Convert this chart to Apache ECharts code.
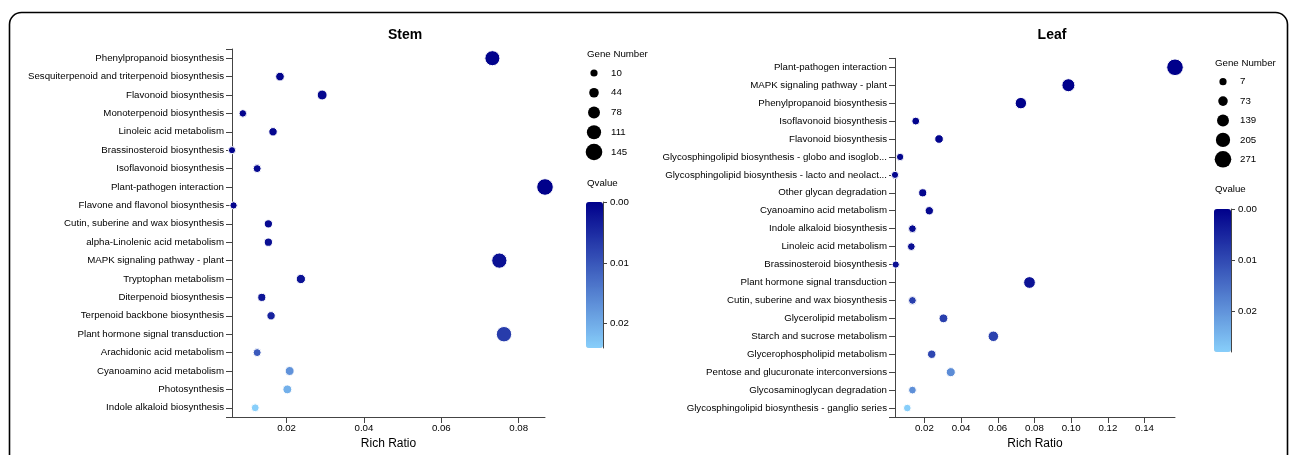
<!DOCTYPE html>
<html><head><meta charset="utf-8">
<script src="https://cdn.jsdelivr.net/npm/echarts@6/dist/echarts.min.js"></script>
<style>html,body{margin:0;padding:0;background:#fff}#c{width:1290px;height:455px}</style>
</head><body><div id="c"></div>
<script>
const stemCategories = [
  'Phenylpropanoid biosynthesis','Sesquiterpenoid and triterpenoid biosynthesis','Flavonoid biosynthesis',
  'Monoterpenoid biosynthesis','Linoleic acid metabolism','Brassinosteroid biosynthesis','Isoflavonoid biosynthesis',
  'Plant-pathogen interaction','Flavone and flavonol biosynthesis','Cutin, suberine and wax biosynthesis',
  'alpha-Linolenic acid metabolism','MAPK signaling pathway - plant','Tryptophan metabolism','Diterpenoid biosynthesis',
  'Terpenoid backbone biosynthesis','Plant hormone signal transduction','Arachidonic acid metabolism',
  'Cyanoamino acid metabolism','Photosynthesis','Indole alkaloid biosynthesis'];
const stemRichRatio = [0.0732,0.0183,0.0292,0.0087,0.0165,0.0059,0.0124,0.0868,0.0063,0.0153,
  0.0153,0.0750,0.0237,0.0136,0.0160,0.0762,0.0124,0.0208,0.0202,0.0119];
const stemQvalue = [0.0002,0.0005,0.0008,0.0005,0.0008,0.0003,0.0010,0.0001,0.0005,0.0012,
  0.0018,0.0020,0.0022,0.0025,0.0040,0.0070,0.0105,0.0170,0.0205,0.0240];
const stemGeneNumber = [123,31,49,15,28,10,21,145,11,26,26,126,40,23,27,128,21,35,34,20];
const stemSizeTicks = [10,44,78,111,145];

const leafCategories = [
  'Plant-pathogen interaction','MAPK signaling pathway - plant','Phenylpropanoid biosynthesis',
  'Isoflavonoid biosynthesis','Flavonoid biosynthesis','Glycosphingolipid biosynthesis - globo and isoglob...',
  'Glycosphingolipid biosynthesis - lacto and neolact...','Other glycan degradation','Cyanoamino acid metabolism',
  'Indole alkaloid biosynthesis','Linoleic acid metabolism','Brassinosteroid biosynthesis',
  'Plant hormone signal transduction','Cutin, suberine and wax biosynthesis','Glycerolipid metabolism',
  'Starch and sucrose metabolism','Glycerophospholipid metabolism','Pentose and glucuronate interconversions',
  'Glycosaminoglycan degradation','Glycosphingolipid biosynthesis - ganglio series'];
const leafRichRatio = [0.1566,0.0985,0.0726,0.0153,0.0280,0.0068,0.0040,0.0191,0.0227,0.0135,
  0.0129,0.0044,0.0773,0.0135,0.0304,0.0576,0.0240,0.0344,0.0135,0.0107];
const leafQvalue = [0.0000,0.0000,0.0001,0.0004,0.0005,0.0008,0.0010,0.0010,0.0012,0.0015,
  0.0020,0.0022,0.0025,0.0085,0.0085,0.0090,0.0095,0.0190,0.0195,0.0280];
const leafGeneNumber = [271,170,126,26,48,12,7,33,39,23,22,8,134,23,53,100,42,60,23,19];
const leafSizeTicks = [7,73,139,205,271];

const FONT = "'Liberation Sans', Arial, sans-serif";
const AX = '#444';
const FS = 9.7;
const D_MIN = 7.2, D_MAX = 16.6;
function sizeFn(genes){
  const lo = Math.min(...genes), hi = Math.max(...genes);
  return g => D_MIN + (g - lo) / (hi - lo) * (D_MAX - D_MIN);
}
const stemSize = sizeFn(stemGeneNumber), leafSize = sizeFn(leafGeneNumber);
const stemQMax = Math.max(...stemQvalue), leafQMax = Math.max(...leafQvalue);

const L = {
  stem: {grid:{left:232, top:49, width:313, height:374}, legend:{left:584, top:73, width:20, height:79},
         bar:{left:586, top:202, width:17, height:146}, title:[405,35], gene:[587,54], q:[587,183]},
  leaf: {grid:{left:895, top:58.3, width:280, height:368.4}, legend:{left:1213, top:81.7, width:20, height:77.6},
         bar:{left:1214, top:209, width:17, height:143}, title:[1052,35], gene:[1215,63], q:[1215,189]}
};

const grids = [], xAxes = [], yAxes = [], series = [], visualMaps = [], texts = [];
function build(key, cats, rr, qv, genes, ticks, sizeF, qMax, title, splitN){
  const g0 = grids.length; const lay = L[key];
  grids.push(lay.grid, lay.legend, lay.bar);
  xAxes.push({type:'value', gridIndex:g0, min:'dataMin', max:'dataMax', splitNumber:splitN, scale:true,
    name:'Rich Ratio', nameLocation:'middle', nameGap:21, nameTextStyle:{fontSize:12, color:'#000', fontFamily:FONT},
    axisLine:{show:true, onZero:false, lineStyle:{color:AX, width:1}}, axisTick:{show:true, length:6, lineStyle:{color:AX}},
    splitLine:{show:false},
    axisLabel:{fontSize:FS, color:'#000', fontFamily:FONT, margin:6, showMinLabel:false, showMaxLabel:false,
      formatter:v=>v.toFixed(2)}});
  xAxes.push({type:'value', gridIndex:g0+1, min:-1, max:1, show:false});
  xAxes.push({type:'value', gridIndex:g0+2, min:0, max:1, show:false});
  const yMain = yAxes.length;
  yAxes.push({type:'category', gridIndex:g0, data:cats, inverse:true, boundaryGap:true,
    axisLine:{show:true, onZero:false, lineStyle:{color:AX, width:1}},
    axisTick:{show:true, alignWithLabel:true, length:6, lineStyle:{color:AX}},
    axisLabel:{fontSize:FS, color:'#000', fontFamily:FONT, margin:8, interval:0}, splitLine:{show:false}});
  yAxes.push({type:'value', gridIndex:g0, min:0, max:1, interval:1, position:'left',
    axisLine:{show:false, onZero:false}, axisLabel:{show:false}, splitLine:{show:false},
    axisTick:{show:true, length:6, lineStyle:{color:AX}}});
  const yLeg = yAxes.length;
  yAxes.push({type:'category', gridIndex:g0+1, data:ticks.map(String), inverse:true, boundaryGap:false, position:'right',
    axisLine:{show:false, onZero:false}, axisTick:{show:false},
    axisLabel:{fontSize:FS, color:'#000', fontFamily:FONT, margin:7, interval:0}});
  yAxes.push({type:'value', gridIndex:g0+2, min:0, max:qMax, interval:0.01, inverse:true, position:'right',
    axisLine:{show:true, onZero:false, lineStyle:{color:AX, width:1}}, axisTick:{show:true, length:4, lineStyle:{color:AX}},
    splitLine:{show:false}, z:10,
    axisLabel:{fontSize:FS, color:'#000', fontFamily:FONT, margin:7, showMaxLabel:false, formatter:v=>v.toFixed(2)}});
  const sIdx = series.length;
  series.push({type:'scatter', xAxisIndex:g0, yAxisIndex:yMain, clip:false,
    data: cats.map((c,i)=>[rr[i], i, qv[i], genes[i]]),
    encode:{x:0, y:1},
    symbolSize: d => sizeF(d[3]),
    itemStyle:{borderColor:'#fff', borderWidth:1, opacity:1}});
  series.push({type:'scatter', xAxisIndex:g0+1, yAxisIndex:yLeg, clip:false,
    data: ticks.map((t,i)=>[0, i, t]), encode:{x:0, y:1},
    symbolSize: d => sizeF(d[2]), itemStyle:{color:'#000', opacity:1}});
  visualMaps.push({type:'continuous', seriesIndex:sIdx, dimension:2, min:0, max:qMax, inverse:true,
    left:lay.bar.left, top:lay.bar.top, itemWidth:lay.bar.width, itemHeight:lay.bar.height,
    padding:0, calculable:false, realtime:false, text:null, showLabel:false, z:1,
    inRange:{color:['#00008b','#87cefa']}, textStyle:{color:'transparent'}});
  texts.push({type:'text', x:lay.title[0], y:lay.title[1],
    style:{text:title, font:'bold 14px '+FONT, fill:'#000', textAlign:'center', textVerticalAlign:'middle'}});
  texts.push({type:'text', x:lay.gene[0], y:lay.gene[1],
    style:{text:'Gene Number', font:FS+'px '+FONT, fill:'#000', textAlign:'left', textVerticalAlign:'middle'}});
  texts.push({type:'text', x:lay.q[0], y:lay.q[1],
    style:{text:'Qvalue', font:FS+'px '+FONT, fill:'#000', textAlign:'left', textVerticalAlign:'middle'}});
}
build('stem', stemCategories, stemRichRatio, stemQvalue, stemGeneNumber, stemSizeTicks, stemSize, stemQMax, 'Stem', 5);
build('leaf', leafCategories, leafRichRatio, leafQvalue, leafGeneNumber, leafSizeTicks, leafSize, leafQMax, 'Leaf', 8);

texts.push({type:'rect', shape:{x:9.5, y:12.5, width:1278, height:480, r:12}, silent:true, z:-1,
  style:{fill:'none', stroke:'#000', lineWidth:1.6}});

const chart = echarts.init(document.getElementById('c'), null, {renderer:'canvas'});
chart.setOption({
  backgroundColor:'#fff', animation:false,
  textStyle:{fontFamily:FONT},
  grid:grids, xAxis:xAxes, yAxis:yAxes, series:series, visualMap:visualMaps,
  graphic:{elements:texts}
});
</script></body></html>
